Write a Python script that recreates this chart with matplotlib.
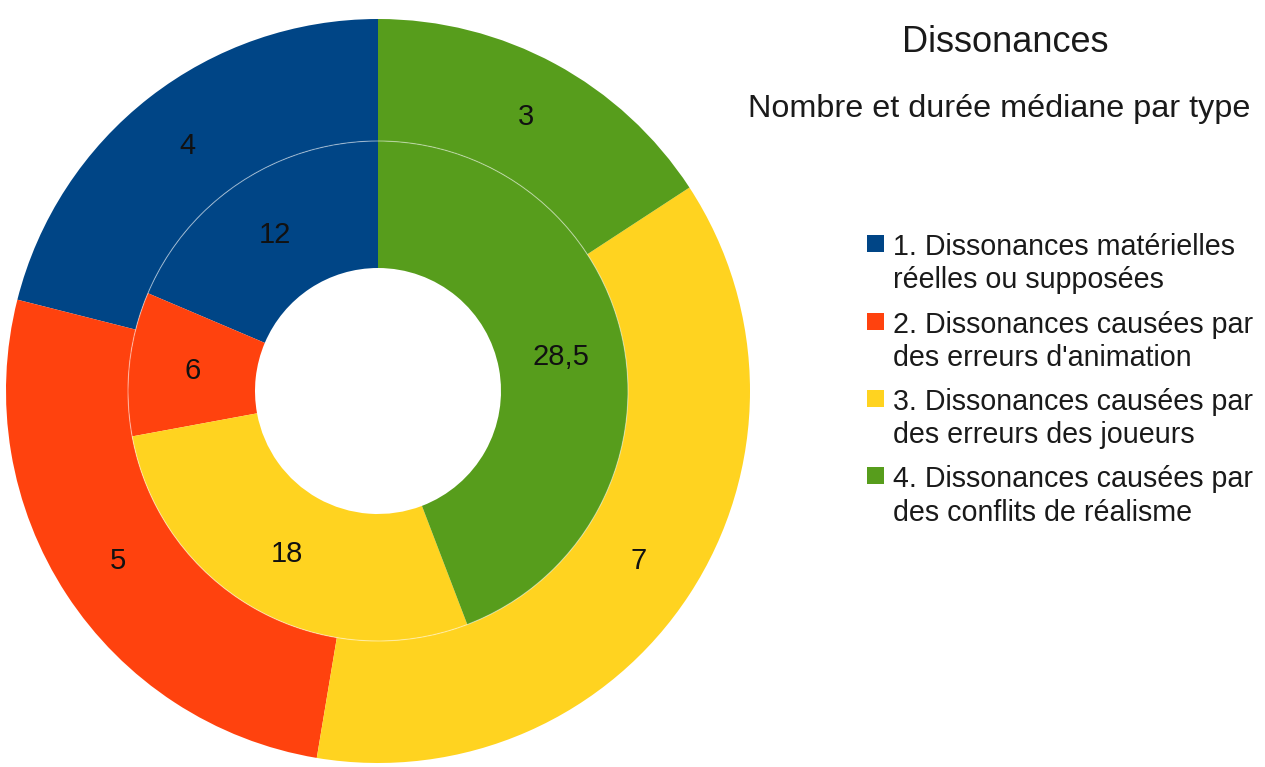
import matplotlib
matplotlib.use("Agg")
import matplotlib.pyplot as plt
from matplotlib.patches import Rectangle, Circle

plt.rcParams['font.family'] = ['Liberation Sans', 'DejaVu Sans']

categories = [
    "1. Dissonances matérielles\nréelles ou supposées",
    "2. Dissonances causées par\ndes erreurs d'animation",
    "3. Dissonances causées par\ndes erreurs des joueurs",
    "4. Dissonances causées par\ndes conflits de réalisme",
]
nombre = [4, 5, 7, 3]              # outer ring
duree_mediane = [12, 6, 18, 28.5]  # inner ring
colors = ["#004586", "#ff420e", "#ffd320", "#579d1c"]

title = "Dissonances"
subtitle = "Nombre et durée médiane par type"

W, H = 1265, 767
fig = plt.figure(figsize=(W / 100, H / 100), dpi=100)

# pie axes: center (378, 391) px, radius 372 px
cx, cy, R = 378, 391, 372
ax = fig.add_axes([(cx - R) / W, (H - cy - R) / H, 2 * R / W, 2 * R / H])
ax.set_xlim(-1, 1)
ax.set_ylim(-1, 1)
ax.set_aspect('equal')
ax.axis('off')

r_mid = 250 / R
r_hole = 123 / R

def fmt(v):
    s = ("%g" % v)
    return s.replace('.', ',')

ax.pie(nombre, radius=1.0, colors=colors, startangle=90, counterclock=True,
       wedgeprops=dict(width=1.0 - r_mid, edgecolor='none'),
       labels=[fmt(v) for v in nombre], labeldistance=(1.0 + r_mid) / 2,
       textprops=dict(fontsize=21, color='#111111', ha='center', va='center'))
ax.pie(duree_mediane, radius=r_mid, colors=colors, startangle=90, counterclock=True,
       wedgeprops=dict(width=r_mid - r_hole, edgecolor='none'),
       labels=[fmt(v) for v in duree_mediane],
       labeldistance=((r_mid + r_hole) / 2) / r_mid,
       textprops=dict(fontsize=21, color='#111111', ha='center', va='center'))
ax.add_patch(Circle((0, 0), r_mid, fill=False, edgecolor='white', lw=0.8, alpha=0.45))
ax.set_xlim(-1, 1)
ax.set_ylim(-1, 1)

# titles
fig.text(1005 / W, 1 - 52 / H, title, fontsize=26, ha='center', va='baseline', color='#1a1a1a')
fig.text(999 / W, 1 - 117 / H, subtitle, fontsize=23.3, ha='center', va='baseline', color='#1a1a1a')

# legend (manual, marker aligned with first line)
x_marker, x_text = 867, 893
baselines = [(255, 288), (333, 366), (410, 443), (487, 521)]
for lab, col, (b1, b2) in zip(categories, colors, baselines):
    fig.patches.append(Rectangle((x_marker / W, 1 - (b1 - 3) / H), 17 / W, 17 / H,
                                 transform=fig.transFigure, facecolor=col, edgecolor='none'))
    l1, l2 = lab.split("\n")
    fig.text(x_text / W, 1 - b1 / H, l1, fontsize=20.6, ha='left', va='baseline', color='#1a1a1a')
    fig.text(x_text / W, 1 - b2 / H, l2, fontsize=20.6, ha='left', va='baseline', color='#1a1a1a')

fig.savefig("out.png", dpi=100, facecolor='white')
